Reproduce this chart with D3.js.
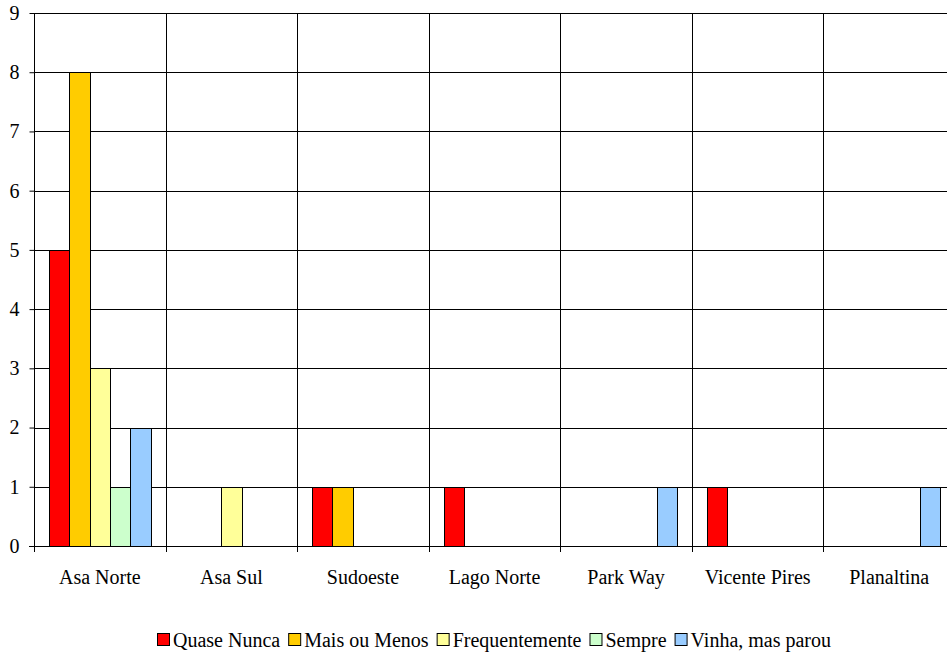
<!DOCTYPE html>
<html>
<head>
<meta charset="utf-8">
<script src="https://cdn.jsdelivr.net/npm/d3@7"></script>
<style>
  html, body { margin: 0; padding: 0; background: #fff; }
  svg { display: block; }
</style>
</head>
<body>
<svg id="chart" width="947" height="654"></svg>
<script>
// Bairros e frequência de respostas
const categories = ["Asa Norte", "Asa Sul", "Sudoeste", "Lago Norte", "Park Way", "Vicente Pires", "Planaltina"];
const seriesNames = ["Quase Nunca", "Mais ou Menos", "Frequentemente", "Sempre", "Vinha, mas parou"];
const seriesColors = ["#ff0000", "#ffcc00", "#ffff99", "#ccffcc", "#99ccff"];
const quaseNunca     = [5, 0, 1, 1, 0, 1, 0];
const maisOuMenos    = [8, 0, 1, 0, 0, 0, 0];
const frequentemente = [3, 1, 0, 0, 0, 0, 0];
const sempre         = [1, 0, 0, 0, 0, 0, 0];
const vinhaMasParou  = [2, 0, 0, 0, 1, 0, 1];
const yTicks = [0, 1, 2, 3, 4, 5, 6, 7, 8, 9];

const series = [quaseNunca, maisOuMenos, frequentemente, sempre, vinhaMasParou];
const FONT = "'Liberation Serif', 'Times New Roman', serif";
const FS = 20;

const svg = d3.select("#chart");
const plotL = 34, plotT = 13, plotB = 546, plotR = 955;

const x = d3.scaleBand().domain(categories).range([plotL, plotR]).paddingInner(0).paddingOuter(0);
const groupPad = 15;
const inner = d3.scaleBand().domain(d3.range(seriesNames.length))
  .range([groupPad, x.bandwidth() - groupPad]).paddingInner(0).paddingOuter(0);
const y = d3.scaleLinear().domain([0, 9]).range([plotB, plotT]);

// horizontal gridlines
svg.append("g").selectAll("line").data(yTicks.filter(d => d > 0)).join("line")
  .attr("x1", plotL).attr("x2", plotR)
  .attr("y1", d => Math.round(y(d)) + 0.5).attr("y2", d => Math.round(y(d)) + 0.5)
  .attr("stroke", "#000").attr("stroke-width", 1);

// vertical category separators
svg.append("g").selectAll("line").data(categories.slice(1)).join("line")
  .attr("x1", d => Math.round(x(d)) + 0.5).attr("x2", d => Math.round(x(d)) + 0.5)
  .attr("y1", plotT).attr("y2", plotB + 6)
  .attr("stroke", "#000").attr("stroke-width", 1);

// bars
const barData = [];
categories.forEach((c, ci) => series.forEach((s, si) => {
  if (s[ci] > 0) barData.push({ c, si, v: s[ci] });
}));
svg.append("g").selectAll("rect").data(barData).join("rect")
  .attr("x", d => Math.round(x(d.c) + inner(d.si)) + 0.5)
  .attr("width", d => Math.round(x(d.c) + inner(d.si) + inner.bandwidth()) - Math.round(x(d.c) + inner(d.si)))
  .attr("y", d => Math.round(y(d.v)) + 0.5)
  .attr("height", d => Math.round(y(0)) - Math.round(y(d.v)))
  .attr("fill", d => seriesColors[d.si])
  .attr("stroke", "#000").attr("stroke-width", 1);

// y axis
const yAxis = d3.axisLeft(y).tickValues(yTicks).tickSize(5).tickPadding(10).tickFormat(d3.format("d"));
const yg = svg.append("g").attr("transform", `translate(${plotL + 0.5},0)`).call(yAxis);
yg.select(".domain").attr("stroke", "#000").attr("d", `M0,${plotT}V${plotB + 6}`);
yg.selectAll(".tick line").attr("stroke", "#000");
yg.selectAll(".tick text").attr("fill", "#000")
  .style("font-family", FONT).style("font-size", FS + "px");

// x axis baseline
svg.append("line").attr("x1", plotL - 5).attr("x2", plotR)
  .attr("y1", Math.round(y(0)) + 0.5).attr("y2", Math.round(y(0)) + 0.5)
  .attr("stroke", "#000");

// category labels
svg.append("g").selectAll("text").data(categories).join("text")
  .attr("x", d => x(d) + x.bandwidth() / 2)
  .attr("y", 584)
  .attr("text-anchor", "middle")
  .attr("fill", "#000")
  .style("font-family", FONT).style("font-size", FS + "px")
  .text(d => d);

// legend
const legend = svg.append("g");
let lx = 0;
const itemGap = 8;
seriesNames.forEach((n, i) => {
  const g = legend.append("g");
  g.append("rect").attr("x", 0.5).attr("y", -13.5).attr("width", 12).attr("height", 12)
    .attr("fill", seriesColors[i]).attr("stroke", "#000").attr("stroke-width", 1);
  const t = g.append("text").attr("x", 16).attr("y", 0)
    .attr("fill", "#000").style("font-family", FONT).style("font-size", FS + "px").text(n);
  const w = 16 + t.node().getComputedTextLength();
  g.attr("transform", `translate(${lx},0)`);
  lx += w + itemGap;
});
const totalW = lx - itemGap;
legend.attr("transform", `translate(${Math.round((151 + 838) / 2 - totalW / 2)},647)`);
</script>
</body>
</html>
